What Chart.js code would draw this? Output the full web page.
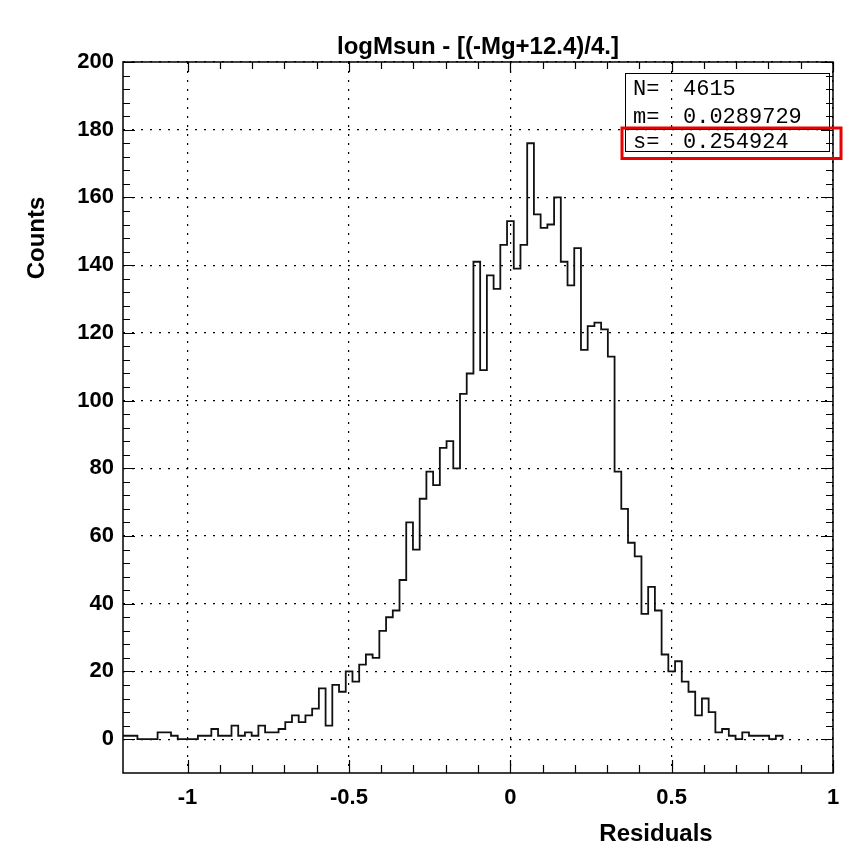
<!DOCTYPE html>
<html>
<head>
<meta charset="utf-8">
<script src="https://cdn.jsdelivr.net/npm/chart.js@4/dist/chart.umd.min.js"></script>
<style>
  html, body { margin: 0; padding: 0; background: #fff; }
  #wrap { position: relative; width: 844px; height: 847px; }
</style>
</head>
<body>
<div id="wrap"><canvas id="c"></canvas></div>
<script>
// Residual histogram: logMsun minus the magnitude-based estimate
const TITLE = 'logMsun - [(-Mg+12.4)/4.]';
const X_TITLE = 'Residuals';
const Y_TITLE = 'Counts';

// Binning of the histogram (low edge of the first bin and common bin width)
const HIST_LOW = -1.2178;
const BIN_WIDTH = 0.020824;

// Entries per bin, left to right
const COUNTS = [
  1, 1, 1,
  0, 0, 0, 2, 2, 1, 0, 0, 0, 1, 1, 3, 1, 1, 4, 1, 2, 1, 4, 2, 2, 3, 5, 7, 5, 7, 9, 15, 4, 16, 14,
  20, 17, 22, 25, 24, 32, 36, 38, 47, 64, 56, 71, 79, 75, 86, 88, 80,
  102, 108, 141, 109, 137, 133, 146, 153, 139, 146, 176, 155, 151, 152, 160, 141, 134, 145, 115, 122, 123,
  121, 113, 79, 68, 58, 54,
  37, 45, 38, 25, 20, 23, 17, 14, 7, 12, 8, 2, 3, 1, 0, 2, 1, 1, 1, 0, 1
];

// Axis ranges and labelled ticks
const X_RANGE = [-1.2, 1];
const Y_RANGE = [-10, 200];
const X_TICKS = [-1, -0.5, 0, 0.5, 1];
const Y_TICKS = [0, 20, 40, 60, 80, 100, 120, 140, 160, 180, 200];
const X_MINOR_STEP = 0.1;
const Y_MINOR_STEP = 4;

// Statistics box
const STAT_LABELS = ['N=', 'm=', 's='];
const STAT_VALUES = ['4615', '0.0289729', '0.254924'];

// Outline points: each bin value holds from its low edge to the next edge
const outline = COUNTS.map((c, i) => ({ x: HIST_LOW + i * BIN_WIDTH, y: c }));
outline.push({ x: HIST_LOW + COUNTS.length * BIN_WIDTH, y: 0 });

const BOLD = '"Liberation Sans", Arial, Helvetica, sans-serif';
const MONO = '"Liberation Mono", "DejaVu Sans Mono", monospace';

const framePlugin = {
  id: 'frameAndLabels',
  afterDatasetsDraw(chart) {
    const { ctx, chartArea: a, scales: { x, y } } = chart;
    ctx.save();
    ctx.strokeStyle = '#000';
    ctx.fillStyle = '#000';

    // frame
    ctx.lineWidth = 1.5;
    ctx.strokeRect(a.left, a.top, a.right - a.left, a.bottom - a.top);

    // ticks on all four sides
    ctx.lineWidth = 1.2;
    ctx.beginPath();
    const nx = Math.round((X_TICKS[X_TICKS.length - 1] - X_TICKS[0]) / X_MINOR_STEP);
    for (let i = 0; i <= nx; i++) {
      const v = X_TICKS[0] + i * X_MINOR_STEP;
      const major = X_TICKS.some(t => Math.abs(t - v) < 1e-6);
      const px = Math.round(x.getPixelForValue(v)) + 0.5;
      ctx.moveTo(px, a.bottom); ctx.lineTo(px, a.bottom - (major ? 13 : 8));
      ctx.moveTo(px, a.top); ctx.lineTo(px, a.top + (major ? 10 : 7));
    }
    const ny = Math.round((Y_TICKS[Y_TICKS.length - 1] - Y_TICKS[0]) / Y_MINOR_STEP);
    for (let i = 0; i <= ny; i++) {
      const v = Y_TICKS[0] + i * Y_MINOR_STEP;
      const major = Y_TICKS.some(t => Math.abs(t - v) < 1e-6);
      const py = Math.round(y.getPixelForValue(v)) + 0.5;
      ctx.moveTo(a.left, py); ctx.lineTo(a.left + (major ? 12 : 7), py);
      ctx.moveTo(a.right, py); ctx.lineTo(a.right - (major ? 12 : 7), py);
    }
    ctx.stroke();

    // title and axis titles
    ctx.font = 'bold 24px ' + BOLD;
    ctx.textAlign = 'center';
    ctx.textBaseline = 'alphabetic';
    ctx.fillText(TITLE, (a.left + a.right) / 2, 54);
    ctx.fillText(X_TITLE, 656, 841);
    ctx.save();
    ctx.translate(44, 238);
    ctx.rotate(-Math.PI / 2);
    ctx.fillText(Y_TITLE, 0, 0);
    ctx.restore();

    // statistics box
    ctx.lineWidth = 1;
    ctx.strokeRect(625.5, 73.5, 204, 78);
    ctx.beginPath();
    ctx.moveTo(625.5, 129.5); ctx.lineTo(829.5, 129.5);
    ctx.stroke();
    ctx.font = '22px ' + MONO;
    ctx.textAlign = 'left';
    const rows = [95, 123, 148];
    STAT_LABELS.forEach((lab, i) => {
      ctx.fillText(lab, 633, rows[i]);
      ctx.fillText(STAT_VALUES[i], 683, rows[i]);
    });

    // highlight around the spread value
    ctx.strokeStyle = 'rgb(235, 0, 0)';
    ctx.lineWidth = 3;
    ctx.strokeRect(622, 128, 219, 30.5);

    ctx.restore();
  }
};

new Chart(document.getElementById('c'), {
  type: 'line',
  data: {
    datasets: [{
      data: outline,
      stepped: 'before',
      borderColor: '#111',
      borderWidth: 1.8,
      pointRadius: 0,
      fill: false,
      tension: 0
    }]
  },
  options: {
    responsive: true,
    maintainAspectRatio: false,
    animation: false,
    events: [],
    layout: { padding: { top: 62, right: 11, left: 0, bottom: 0 } },
    plugins: { legend: { display: false }, tooltip: { enabled: false }, title: { display: false } },
    scales: {
      x: {
        type: 'linear',
        min: X_RANGE[0],
        max: X_RANGE[1],
        afterBuildTicks: s => { s.ticks = X_TICKS.map(v => ({ value: v })); },
        afterFit: s => { s.height = 74; s.paddingLeft = 0; s.paddingRight = 0; },
        ticks: {
          autoSkip: false, maxRotation: 0, color: '#000', padding: 12,
          font: { family: BOLD, weight: 'bold', size: 22 },
          callback: v => String(v)
        },
        grid: { color: '#000', lineWidth: 1.2, drawTicks: false },
        border: { display: false, dash: [2, 7] }
      },
      y: {
        type: 'linear',
        min: Y_RANGE[0],
        max: Y_RANGE[1],
        afterBuildTicks: s => { s.ticks = Y_TICKS.map(v => ({ value: v })); },
        afterFit: s => { s.width = 123; s.paddingTop = 0; s.paddingBottom = 0; },
        ticks: {
          color: '#000', padding: 9,
          font: { family: BOLD, weight: 'bold', size: 22 },
          callback: v => String(v)
        },
        grid: { color: '#000', lineWidth: 1.2, drawTicks: false },
        border: { display: false, dash: [2, 7] }
      }
    }
  },
  plugins: [framePlugin]
});
</script>
</body>
</html>
